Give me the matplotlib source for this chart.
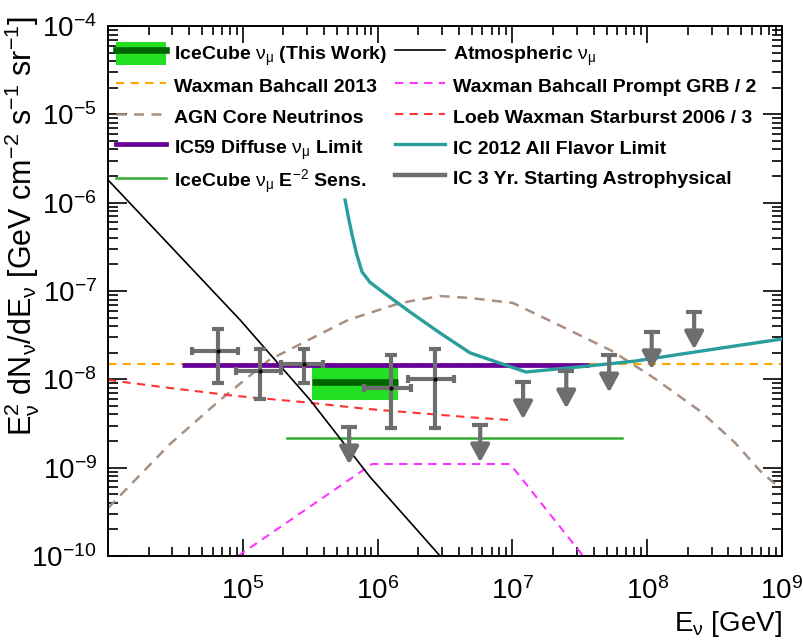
import matplotlib
matplotlib.use('Agg')
import matplotlib.pyplot as plt
from matplotlib.patches import Patch, Rectangle
from matplotlib.lines import Line2D
from matplotlib.legend_handler import HandlerPatch
from matplotlib.ticker import LogLocator, LogFormatterMathtext, NullFormatter, FixedLocator

plt.rcParams['font.family'] = ['Liberation Sans', 'DejaVu Sans']
plt.rcParams['mathtext.fontset'] = 'custom'
plt.rcParams['mathtext.rm'] = 'Liberation Sans'
plt.rcParams['mathtext.it'] = 'Liberation Sans:italic'
plt.rcParams['mathtext.bf'] = 'Liberation Sans:bold'
plt.rcParams['mathtext.default'] = 'rm'
plt.rcParams['axes.unicode_minus'] = False

# ---------------- data ----------------
atm_E = [1.0e4, 9.55e4, 3.16e5, 8.8e5, 2.91e6]
atm_F = [1.81e-6, 4.7e-8, 5.83e-9, 7.83e-10, 1.0e-10]

wb_E = [1e4, 1e9]
wb_F = [1.5e-8, 1.5e-8]

agn_E = [1e4, 2.88e4, 6.78e4, 1.57e5, 6.04e5, 1.47e6, 2.91e6, 4.86e6, 1.01e7,
         2.64e7, 5.5e7, 1.15e8, 2.52e8, 4.43e8, 6.9e8, 1e9]
agn_F = [3.49e-10, 1.85e-9, 5.83e-9, 1.66e-8, 4.7e-8, 7.31e-8, 8.77e-8, 8.33e-8, 7.31e-8,
         3.61e-8, 2.09e-8, 1.01e-8, 4.27e-9, 1.95e-9, 9.16e-10, 5.58e-10]

ic59_E = [3.57e4, 3.71e7]
ic59_F = [1.44e-8, 1.44e-8]

sens_E = [2.13e5, 6.52e7]
sens_F = [2.17e-9, 2.17e-9]

grb_E = [9.22e4, 9.1e5, 9.62e6, 3.35e7]
grb_F = [1.0e-10, 1.1e-9, 1.1e-9, 1.0e-10]

lw_E = [1e4, 2.88e4, 8.91e4, 2.75e5, 8.51e5, 4.61e6, 9.62e6]
lw_F = [9.82e-9, 7.98e-9, 6.48e-9, 5.54e-9, 4.61e-9, 3.74e-9, 3.46e-9]

ic12_E = [5.74e5, 6.1e5, 6.47e5, 7.0e5, 7.67e5, 8.8e5, 1.04e6, 1.74e6, 2.91e6, 4.86e6,
          1.26e7, 3.71e7, 8.15e7, 2.52e8, 4.43e8, 1e9]
ic12_F = [1.07e-6, 6.6e-7, 4.31e-7, 2.6e-7, 1.64e-7, 1.25e-7, 1.03e-7, 5.78e-8, 3.34e-8, 1.99e-8,
          1.21e-8, 1.42e-8, 1.61e-8, 2.09e-8, 2.38e-8, 2.86e-8]

# this work: energy range, flux band, best fit
tw_E = [3.27e5, 1.42e6]
tw_F_lo = 5.83e-9
tw_F_hi = 1.39e-8
tw_F_best = 9.44e-9

# IC 3 yr starting events: points with errors
pts_E = [6.55e4, 1.34e5, 2.85e5, 1.26e6, 2.67e6]
pts_F = [2.09e-8, 1.24e-8, 1.49e-8, 7.98e-9, 1.01e-8]
pts_Elo = [4.2e4, 8.91e4, 1.92e5, 7.94e5, 1.68e6]
pts_Ehi = [9.22e4, 1.92e5, 3.95e5, 1.77e6, 3.7e6]
pts_Flo = [9.08e-9, 5.98e-9, 9.08e-9, 2.81e-9, 2.81e-9]
pts_Fhi = [3.72e-8, 2.2e-8, 2.2e-8, 1.88e-8, 2.2e-8]

# IC 3 yr upper limits
ul_E = [6.15e5, 5.77e6, 1.2e7, 2.51e7, 5.22e7, 1.08e8, 2.23e8]
ul_F = [2.88e-9, 3.04e-9, 9.33e-9, 1.24e-8, 1.88e-8, 3.44e-8, 5.78e-8]

x_ticks = [1e5, 1e6, 1e7, 1e8, 1e9]
y_ticks = [1e-10, 1e-9, 1e-8, 1e-7, 1e-6, 1e-5, 1e-4]

# ---------------- colours ----------------
C_GRAY = '#6e6e6e'
C_GREEN = '#22e022'
C_DKGREEN = '#006400'
C_ORANGE = '#ffa500'
C_BROWN = '#a89080'
C_PURPLE = '#660099'
C_SENS = '#33aa33'
C_MAG = '#ff33ff'
C_RED = '#ff3333'
C_TEAL = '#2a9d9d'

fig = plt.figure(figsize=(8.04, 6.40), dpi=100)
ax = fig.add_axes([108/804, 1-556/640, 674/804, 530/640])
ax.set_xscale('log')
ax.set_yscale('log')
ax.set_xlim(1e4, 1e9)
ax.set_ylim(1e-10, 1e-4)

dash = (0, (4, 3))
ax.plot(agn_E, agn_F, color=C_BROWN, lw=1.8, ls=dash, zorder=2)
ax.plot(lw_E, lw_F, color=C_RED, lw=1.5, ls=dash, zorder=2)
ax.plot(grb_E, grb_F, color=C_MAG, lw=1.5, ls=dash, zorder=2)
ax.plot(wb_E, wb_F, color=C_ORANGE, lw=1.5, ls=dash, zorder=2)

ax.fill_between(tw_E, tw_F_lo, tw_F_hi, color=C_GREEN, lw=0, zorder=3)
ax.plot(tw_E, [tw_F_best, tw_F_best], color=C_DKGREEN, lw=4.8, solid_capstyle='butt', zorder=3)

ax.plot(sens_E, sens_F, color=C_SENS, lw=1.8, zorder=3)
ax.plot(atm_E, atm_F, color='black', lw=1.2, zorder=3.5)
ax.plot(ic59_E, ic59_F, color=C_PURPLE, lw=3.4, solid_capstyle='butt', zorder=4)
ax.plot(ic12_E, ic12_F, color=C_TEAL, lw=2.4, zorder=4)

xerr = [[e - lo for e, lo in zip(pts_E, pts_Elo)], [hi - e for e, hi in zip(pts_E, pts_Ehi)]]
yerr = [[f - lo for f, lo in zip(pts_F, pts_Flo)], [hi - f for f, hi in zip(pts_F, pts_Fhi)]]
ax.errorbar(pts_E, pts_F, xerr=xerr, fmt='none', ecolor=C_GRAY, elinewidth=3.0,
            capsize=2.8, capthick=3.0, zorder=5)
ax.errorbar(pts_E, pts_F, yerr=yerr, fmt='none', ecolor=C_GRAY, elinewidth=3.0,
            capsize=4.0, capthick=3.0, zorder=5)
ax.plot(pts_E, pts_F, ls='none', marker='o', ms=2, color='black', zorder=6)

arrow_drop = 2.65
for e, f in zip(ul_E, ul_F):
    ax.annotate('', xy=(e, f / arrow_drop), xytext=(e, f),
                arrowprops=dict(arrowstyle='-|>,head_width=0.38,head_length=0.7',
                                color=C_GRAY, lw=3.0, shrinkA=0, shrinkB=0,
                                mutation_scale=15), zorder=5)
ax.plot(ul_E, ul_F, ls='none', marker='_', ms=12, mew=3.0, color=C_GRAY, zorder=5)

# ---------------- axes styling ----------------
for s in ax.spines.values():
    s.set_linewidth(1.4)
ax.xaxis.set_major_locator(FixedLocator(x_ticks))
ax.yaxis.set_major_locator(FixedLocator(y_ticks))
ax.xaxis.set_major_formatter(LogFormatterMathtext())
ax.yaxis.set_major_formatter(LogFormatterMathtext())
ax.xaxis.set_minor_locator(LogLocator(base=10, subs=range(2, 10), numticks=100))
ax.yaxis.set_minor_locator(LogLocator(base=10, subs=range(2, 10), numticks=100))
ax.xaxis.set_minor_formatter(NullFormatter())
ax.yaxis.set_minor_formatter(NullFormatter())
ax.tick_params(which='both', direction='in', top=True, right=True, width=1.2, labelsize=20)
ax.tick_params(axis='x', which='major', length=12, pad=15)
ax.tick_params(axis='x', which='minor', length=6.5)
ax.tick_params(axis='y', which='major', length=14, pad=8)
ax.tick_params(axis='y', which='minor', length=7)

fig.text(0.027, 0.975, r'E$_\nu^2$ dN$_\nu$/dE$_\nu$ [GeV cm$^{-2}$ s$^{-1}$ sr$^{-1}$]',
         rotation=90, ha='center', va='top', fontsize=22)
fig.text(782/804, 1 - 624/640, r'E$_\nu$ [GeV]', ha='right', va='center', fontsize=20)

# ---------------- legends ----------------
BOX_H = 16.5  # points


def box_patch(legend, orig_handle, xdescent, ydescent, width, height, fontsize):
    return Rectangle((-xdescent, -ydescent + (height - BOX_H) / 2), width, BOX_H)


tw_patch = Patch(facecolor=C_GREEN, edgecolor='none')
leg_kw = dict(prop={'weight': 'bold', 'size': 14}, frameon=False, handlelength=2.58,
              handleheight=1.55, handletextpad=0.38, labelspacing=0.32, borderpad=0,
              borderaxespad=0, loc='upper left',
              handler_map={tw_patch: HandlerPatch(patch_func=box_patch)})
h_left = [
    (tw_patch, Line2D([], [], color=C_DKGREEN, lw=4.8)),
    Line2D([], [], color=C_ORANGE, lw=1.5, ls=dash),
    Line2D([], [], color=C_BROWN, lw=1.8, ls=dash),
    Line2D([], [], color=C_PURPLE, lw=3.4),
    Line2D([], [], color=C_SENS, lw=1.8),
]
l_left = [r'IceCube $\nu_\mu$ (This Work)', 'Waxman Bahcall 2013', 'AGN Core Neutrinos',
          r'IC59 Diffuse $\nu_\mu$ Limit', r'IceCube $\nu_\mu$ E$^{-2}$ Sens.']
h_right = [
    Line2D([], [], color='black', lw=1.2),
    Line2D([], [], color=C_MAG, lw=1.5, ls=dash),
    Line2D([], [], color=C_RED, lw=1.5, ls=dash),
    Line2D([], [], color=C_TEAL, lw=2.4),
    Line2D([], [], color=C_GRAY, lw=3.2),
]
l_right = [r'Atmospheric $\nu_\mu$', 'Waxman Bahcall Prompt GRB / 2',
           'Loeb Waxman Starburst 2006 / 3', 'IC 2012 All Flavor Limit',
           'IC 3 Yr. Starting Astrophysical']
leg1 = ax.legend(h_left, l_left, bbox_to_anchor=(0.0119, 0.9717), **leg_kw)
ax.add_artist(leg1)
ax.legend(h_right, l_right, bbox_to_anchor=(0.4258, 0.9717), **leg_kw)

fig.savefig('out.png', dpi=100)
